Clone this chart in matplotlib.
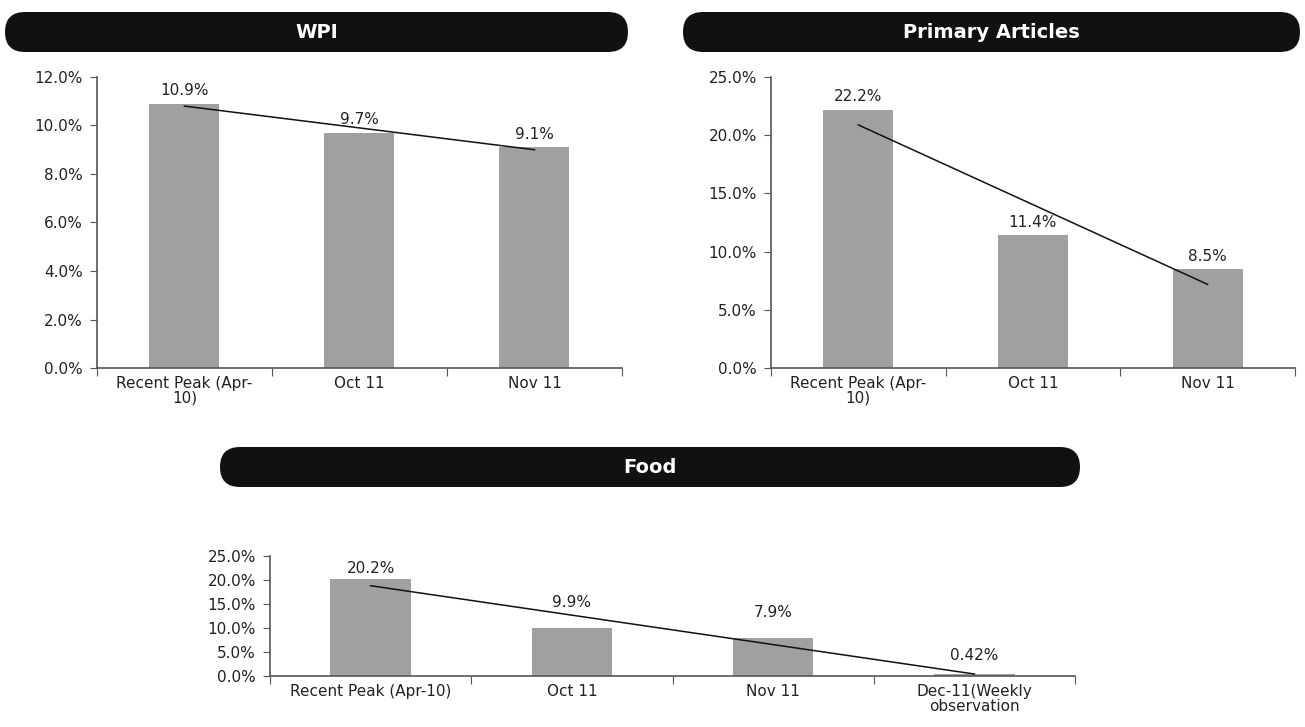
import numpy as np
import matplotlib
matplotlib.use("Agg")
import matplotlib.pyplot as plt
from matplotlib.patches import FancyBboxPatch

# data
wpi_cats = ["Recent Peak (Apr-\n10)", "Oct 11", "Nov 11"]
wpi_vals = [10.9, 9.7, 9.1]
wpi_labels = ["10.9%", "9.7%", "9.1%"]

prim_cats = ["Recent Peak (Apr-\n10)", "Oct 11", "Nov 11"]
prim_vals = [22.2, 11.4, 8.5]
prim_labels = ["22.2%", "11.4%", "8.5%"]

food_cats = ["Recent Peak (Apr-10)", "Oct 11", "Nov 11", "Dec-11(Weekly\nobservation"]
food_vals = [20.2, 9.9, 7.9, 0.42]
food_labels = ["20.2%", "9.9%", "7.9%", "0.42%"]

plt.rcParams['font.family'] = ['DejaVu Sans']
fig = plt.figure(figsize=(13.05, 7.27), dpi=100)

axis_col = '#555555'
bar_col = '#a0a0a0'
txt_col = '#222222'


def header(x0, x1, ytop, title):
    # header bar in inches (top-left origin converted)
    H = 7.27
    h = 0.40
    box = FancyBboxPatch((x0, H - ytop - h), x1 - x0, h,
                         boxstyle="round,pad=0,rounding_size=0.2",
                         transform=fig.dpi_scale_trans, facecolor='#111111',
                         edgecolor='none')
    fig.add_artist(box)
    fig.text((x0 + x1) / 2, H - ytop - h / 2, title, transform=fig.dpi_scale_trans,
             ha='center', va='center', color='white', fontsize=14, fontweight='bold')


def panel(rect, cats, vals, labels, ymax, ystep, offsets):
    ax = fig.add_axes(rect)
    x = np.arange(len(cats))
    ax.bar(x, vals, width=0.4, color=bar_col, zorder=1)
    # linear trendline
    k, b = np.polyfit(x, vals, 1)
    ax.plot(x, k * x + b, color='#111111', lw=1.1, zorder=3)
    for xi, v, lab, off in zip(x, vals, labels, offsets):
        ax.annotate(lab, (xi, v), xytext=(0, off), textcoords='offset points',
                    ha='center', va='bottom', fontsize=11, color=txt_col)
    ax.set_xlim(-0.5, len(cats) - 0.5)
    ax.set_ylim(0, ymax)
    ax.set_yticks(np.arange(0, ymax + 0.001, ystep))
    ax.set_yticklabels(["%.1f%%" % t for t in np.arange(0, ymax + 0.001, ystep)])
    ax.set_xticks(np.arange(-0.5, len(cats), 1.0))
    ax.set_xticklabels([])
    ax.set_xticks(x, minor=True)
    ax.set_xticklabels(cats, minor=True, fontsize=11, color=txt_col, linespacing=0.95)
    ax.tick_params(axis='x', which='minor', length=0, pad=6)
    ax.tick_params(axis='x', which='major', length=6, direction='out', color=axis_col)
    ax.tick_params(axis='y', length=5, direction='out', color=axis_col,
                   labelsize=11, labelcolor=txt_col, pad=5)
    for s in ['top', 'right']:
        ax.spines[s].set_visible(False)
    for s in ['left', 'bottom']:
        ax.spines[s].set_color(axis_col)
        ax.spines[s].set_linewidth(1.2)
    return ax


header(0.05, 6.28, 0.12, "WPI")
header(6.83, 13.00, 0.12, "Primary Articles")
header(2.20, 10.80, 4.47, "Food")

panel([0.0743, 0.4938, 0.4023, 0.4003], wpi_cats, wpi_vals, wpi_labels, 12.0, 2.0,
      [4, 4, 4])
panel([0.5908, 0.4938, 0.4015, 0.4003], prim_cats, prim_vals, prim_labels, 25.0, 5.0,
      [4, 4, 4])
panel([0.2069, 0.0702, 0.6169, 0.1650], food_cats, food_vals, food_labels, 25.0, 5.0,
      [2, 13, 13, 8])

fig.savefig("out.png", dpi=100)
